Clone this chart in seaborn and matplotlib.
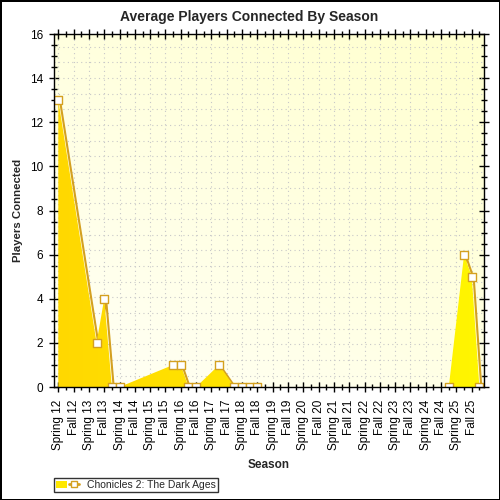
"""Average players connected by season - area chart with markers"""
import numpy as np
import pandas as pd
import matplotlib
matplotlib.use('Agg')
import matplotlib.pyplot as plt
import seaborn as sns
from matplotlib import transforms
from matplotlib.colors import LinearSegmentedColormap
from matplotlib.patches import Patch
from matplotlib.lines import Line2D
from matplotlib.legend_handler import HandlerTuple
from matplotlib.ticker import MultipleLocator

# Data
seasons = ['Spring 12', 'Fall 12', 'Spring 13', 'Fall 13', 'Spring 14', 'Fall 14',
           'Spring 15', 'Fall 15', 'Spring 16', 'Fall 16', 'Spring 17', 'Fall 17',
           'Spring 18', 'Fall 18', 'Spring 19', 'Fall 19', 'Spring 20', 'Fall 20',
           'Spring 21', 'Fall 21', 'Spring 22', 'Fall 22', 'Spring 23', 'Fall 23',
           'Spring 24', 'Fall 24', 'Spring 25', 'Fall 25']
# position of each sample in season units (0 = Spring 12)
sample_pos = [0, 2.5, 3, 3.5, 4, 7.5, 8, 8.5, 9, 10.5, 11.5, 12, 12.5, 13,
              25.5, 26.5, 27, 27.5]
players = [13, 2, 4, 0, 0, 1, 1, 0, 0, 1, 0, 0, 0, 0, 0, 6, 5, 0]
series_name = 'Chonicles 2: The Dark Ages'

df = pd.DataFrame({'pos': sample_pos, 'players': players})

sns.set_style('ticks')
plt.rcParams['font.family'] = ['Liberation Sans', 'DejaVu Sans']

LINE = '#D4A020'
XMIN, XMAX = -0.28, 27.8
YMIN, YMAX = 0, 16

fig = plt.figure(figsize=(5, 5), dpi=100)
fig.patch.set_edgecolor('black')
fig.patch.set_linewidth(2)
ax = fig.add_axes([0.108, 0.226, 0.86, 0.706])

# plot background gradient
yy, xx = np.mgrid[0:1:200j, 0:1:200j]
bg = np.clip(0.6 * yy + 0.45 * xx, 0, 1)
bg_cmap = LinearSegmentedColormap.from_list('bg', ['#FFFFF6', '#FFFFD0'])
ax.imshow(bg, extent=(0, 1, 0, 1), transform=ax.transAxes, origin='lower',
          cmap=bg_cmap, aspect='auto', zorder=0, interpolation='bilinear')

# dotted grid
ax.grid(axis='x', which='major', color='#C8C8C8', ls=(0, (1, 3)), lw=0.8, zorder=1)
for gy in np.arange(15.42, 0.1, -0.71):
    ax.axhline(gy, color='#C8C8C8', ls=(0, (1, 3)), lw=0.8, zorder=1)

# shadow edge, shifted right and a bit down so the baseline stays hidden
shadow = transforms.offset_copy(ax.transData, fig=fig, x=2, y=-2, units='dots')
sns.lineplot(data=df, x='pos', y='players', ax=ax, color=LINE, lw=1.5,
             transform=shadow, zorder=2, legend=False)

# gradient filled area
poly = ax.fill_between(df['pos'], df['players'], 0, color='none', lw=0, zorder=3)
fill_cmap = LinearSegmentedColormap.from_list('fill', ['#FFD800', '#FFF600'])
grad = np.linspace(0, 1, 256).reshape(1, -1)
im = ax.imshow(grad, extent=(XMIN, XMAX, YMIN, YMAX), origin='lower', cmap=fill_cmap,
               aspect='auto', zorder=3)
im.set_clip_path(poly.get_paths()[0], transform=ax.transData)

# markers
sns.scatterplot(data=df, x='pos', y='players', ax=ax, marker='s', s=26,
                facecolor='white', edgecolor=LINE, linewidth=1, zorder=5, legend=False)

ax.set_xlim(XMIN, XMAX)
ax.set_ylim(YMIN, YMAX)
ax.set_xticks(range(len(seasons)))
ax.set_xticklabels(seasons, rotation=90, fontsize=8.5)
ax.xaxis.set_minor_locator(MultipleLocator(0.5))
ax.yaxis.set_major_locator(MultipleLocator(2))
ax.yaxis.set_minor_locator(MultipleLocator(0.5))
ax.tick_params(which='both', direction='inout', top=True, right=True,
               labeltop=False, labelright=False, colors='black', width=1)
ax.tick_params(which='major', length=7)
ax.tick_params(which='minor', length=4)
ax.tick_params(axis='x', pad=5.5)
ax.tick_params(axis='y', labelsize=8.5, pad=4.5)
for sp in ax.spines.values():
    sp.set_color('black')
    sp.set_linewidth(1)
    sp.set_zorder(6)

ax.set_xlabel('Season', fontweight='bold', fontsize=8.5)
ax.xaxis.set_label_coords(0.5, -0.204)
ax.set_ylabel('Players Connected', fontweight='bold', fontsize=8.2)
ax.yaxis.set_label_coords(-0.072, 0.5)

fig.text(0.498, 0.966, 'Average Players Connected By Season', ha='center', va='center',
         fontweight='bold', fontsize=10)

handle = (Patch(facecolor='#FFE800', edgecolor='none'),
          Line2D([], [], color=LINE, lw=2, marker='s', markersize=5,
                 markerfacecolor='white', markeredgecolor=LINE))
leg = fig.legend(handles=[handle], labels=[series_name],
                 handler_map={tuple: HandlerTuple(ndivide=None)},
                 loc='lower left', bbox_to_anchor=(0.108, 0.016), frameon=True,
                 fancybox=False, edgecolor='black', fontsize=7.5, borderpad=0.2,
                 handlelength=2.2, handletextpad=0.8, borderaxespad=0)
leg.get_frame().set_linewidth(1)

fig.savefig('out.png', dpi=100, edgecolor=fig.get_edgecolor())
